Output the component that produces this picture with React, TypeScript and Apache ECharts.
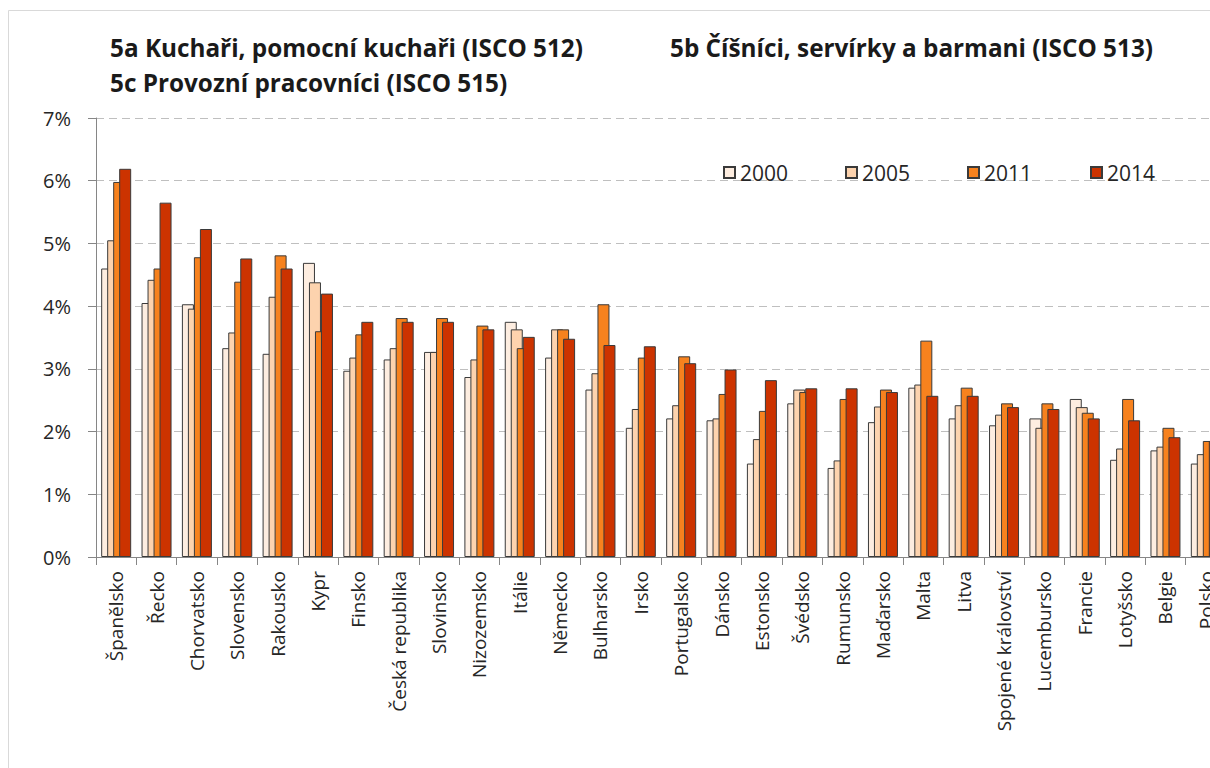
import React, { useEffect, useRef } from "react";
import * as echarts from "echarts";

const categories = [
  "Španělsko", "Řecko", "Chorvatsko", "Slovensko", "Rakousko", "Kypr", "Finsko",
  "Česká republika", "Slovinsko", "Nizozemsko", "Itálie", "Německo", "Bulharsko",
  "Irsko", "Portugalsko", "Dánsko", "Estonsko", "Švédsko", "Rumunsko", "Maďarsko",
  "Malta", "Litva", "Spojené království", "Lucembursko", "Francie", "Lotyšsko",
  "Belgie", "Polsko",
];

const seriesNames = ["2000", "2005", "2011", "2014"];

const v2000 = [4.60, 4.05, 4.03, 3.33, 3.24, 4.69, 2.97, 3.15, 3.27, 2.87, 3.75, 3.18, 2.67, 2.06, 2.21, 2.18, 1.49, 2.45, 1.42, 2.15, 2.70, 2.21, 2.10, 2.21, 2.52, 1.55, 1.70, 1.49];
const v2005 = [5.05, 4.42, 3.96, 3.58, 4.15, 4.38, 3.18, 3.33, 3.27, 3.15, 3.63, 3.63, 2.93, 2.36, 2.42, 2.21, 1.88, 2.67, 1.54, 2.40, 2.75, 2.42, 2.27, 2.06, 2.39, 1.73, 1.76, 1.64];
const v2011 = [5.98, 4.60, 4.78, 4.39, 4.81, 3.60, 3.55, 3.81, 3.81, 3.69, 3.33, 3.63, 4.03, 3.18, 3.20, 2.60, 2.33, 2.63, 2.52, 2.67, 3.45, 2.70, 2.45, 2.45, 2.30, 2.52, 2.06, 1.85];
const v2014 = [6.19, 5.65, 5.23, 4.76, 4.60, 4.20, 3.75, 3.75, 3.75, 3.63, 3.51, 3.48, 3.38, 3.36, 3.09, 2.99, 2.82, 2.69, 2.69, 2.63, 2.57, 2.57, 2.39, 2.36, 2.21, 2.18, 1.91, 1.85];

const titles = [
  "5a Kuchaři, pomocní kuchaři (ISCO 512)",
  "5b Číšníci, servírky a barmani (ISCO 513)",
  "5c Provozní pracovníci (ISCO 515)",
];

const colors = ["#FDEDE0", "#FDD3AE", "#F7821E", "#CC3300"];
const legendLefts = [718, 840, 962, 1085];

const FONT = "'Open Sans', sans-serif";

export default function App() {
  const ref = useRef<HTMLDivElement>(null);

  useEffect(() => {
    if (!ref.current) return;
    const chart = echarts.init(ref.current, undefined, { renderer: "svg" });
    const data = [v2000, v2005, v2011, v2014];

    chart.setOption({
      animation: false,
      backgroundColor: "#ffffff",
      textStyle: { fontFamily: FONT },
      title: [
        { text: titles[0], left: 105, top: 30 },
        { text: titles[1], left: 665, top: 30 },
        { text: titles[2], left: 105, top: 65 },
      ].map((t) => ({
        ...t,
        textStyle: { fontFamily: FONT, fontWeight: "bold", fontSize: 24.3, color: "#1a1a1a" },
      })),
      legend: seriesNames.map((name, i) => ({
        data: [name],
        left: legendLefts[i],
        top: 157,
        itemWidth: 11,
        itemHeight: 11,
        itemGap: 5,
        icon: "rect",
        textStyle: { fontFamily: FONT, fontSize: 21, color: "#262626" },
      })),
      graphic: [
        {
          type: "rect",
          shape: { x: 8.5, y: 10.5, width: 1400, height: 900 },
          style: { fill: "none", stroke: "#D9D9D9", lineWidth: 1 },
          silent: true,
        },
      ],
      grid: { left: 96, top: 118, width: 1130, height: 439, containLabel: false },
      xAxis: {
        type: "category",
        data: categories,
        axisLine: { lineStyle: { color: "#868686", width: 1 } },
        axisTick: { show: true, length: 8, interval: 0, lineStyle: { color: "#868686" } },
        axisLabel: {
          rotate: 90,
          interval: 0,
          margin: 14,
          fontFamily: FONT,
          fontSize: 19,
          color: "#262626",
        },
        splitLine: { show: false },
      },
      yAxis: {
        type: "value",
        min: 0,
        max: 7,
        interval: 1,
        axisLine: { show: true, lineStyle: { color: "#868686", width: 1 } },
        axisTick: { show: true, length: 8, lineStyle: { color: "#868686" } },
        axisLabel: {
          formatter: "{value}%",
          margin: 25,
          fontFamily: FONT,
          fontSize: 20,
          color: "#262626",
        },
        splitLine: { show: true, lineStyle: { color: "#BFBFBF", type: [8, 5], width: 1 } },
      },
      series: seriesNames.map((name, i) => ({
        name,
        type: "bar",
        data: data[i],
        barWidth: 12,
        barGap: "-50%",
        itemStyle: { color: colors[i], borderColor: "#3a3a3a", borderWidth: 1 },
      })),
    });

    return () => chart.dispose();
  }, []);

  return (
    <div
      style={{
        position: "fixed",
        left: 0,
        top: 0,
        width: 1210,
        height: 768,
        overflow: "hidden",
        background: "#fff",
      }}
    >
      <div ref={ref} style={{ width: 1300, height: 800 }} />
    </div>
  );
}
